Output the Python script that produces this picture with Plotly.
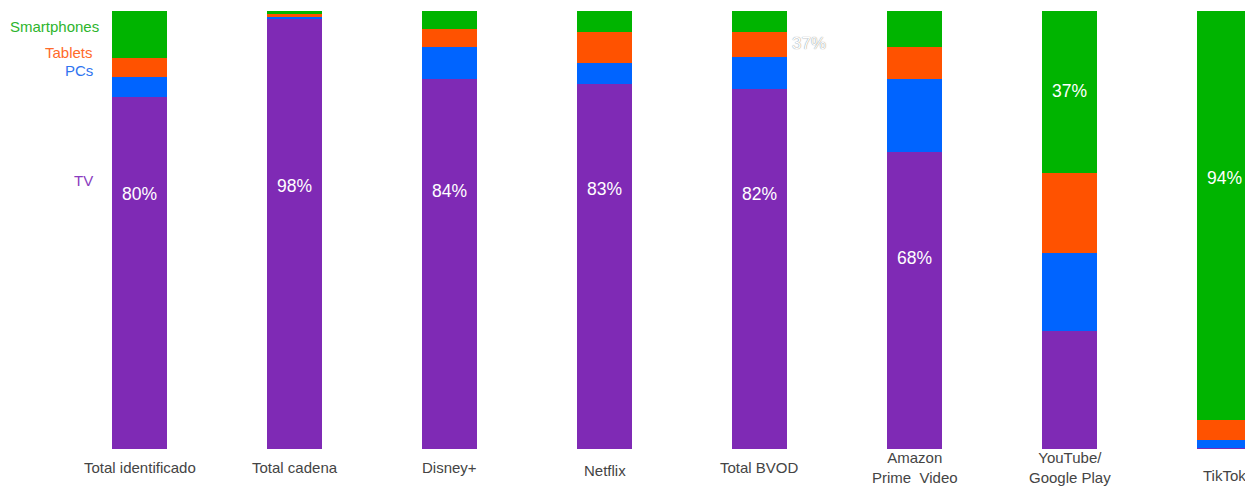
import plotly.graph_objects as go

categories = ["Total identificado", "Total cadena", "Disney+", "Netflix", "Total BVOD",
              "Amazon<br>Prime  Video", "YouTube/<br>Google Play", "TikTok"]
tv = [80.4, 98.1, 84.5, 83.3, 82.2, 67.8, 26.9, 0.3]
pcs = [4.6, 0.6, 7.3, 4.8, 7.3, 16.7, 17.8, 1.8]
tablets = [4.3, 0.7, 4.1, 7.1, 5.7, 7.3, 18.3, 4.6]
smartphones = [10.7, 0.6, 4.1, 4.8, 4.8, 8.2, 37.0, 93.3]
labels = ["80%", "98%", "84%", "83%", "82%", "68%", "37%", "94%"]
label_y = [58.2, 60.0, 58.9, 59.4, 58.2, 43.6, 81.7, 61.9]
cat_label_shift = [0, 0, 0, -3, 0, 0, 0, -8]

C_TV = "#7F2AB5"
C_PC = "#0064FF"
C_TAB = "#FF5200"
C_SM = "#00B400"
FONT = "Liberation Sans"

W, H = 1245, 486
TOP, BOT = 11, 37
PX_PER_CAT = 155.0
X0 = 139.5
xmin = -X0 / PX_PER_CAT
xmax = xmin + W / PX_PER_CAT

def px2x(px):
    return xmin + px / PX_PER_CAT

def py2y(py):
    return (H - BOT - py) / (H - BOT - TOP) * 100

xs = list(range(len(categories)))
bw = 55 / PX_PER_CAT

fig = go.Figure()
for name, vals, col in [("TV", tv, C_TV), ("PCs", pcs, C_PC),
                        ("Tablets", tablets, C_TAB), ("Smartphones", smartphones, C_SM)]:
    fig.add_trace(go.Bar(x=xs, y=vals, name=name, marker_color=col, width=bw,
                         marker_line_width=0, showlegend=False, hoverinfo="skip"))

ann = []
for i, (t, yy) in enumerate(zip(labels, label_y)):
    ann.append(dict(x=i, y=yy, xref="x", yref="y", text=t, showarrow=False,
                    font=dict(color="white", size=17.5, family=FONT)))
for i, c in enumerate(categories):
    ann.append(dict(x=i, y=0, xref="x", yref="paper", yanchor="middle",
                    yshift=-18 + cat_label_shift[i],
                    text=c, showarrow=False,
                    font=dict(color="#444444", size=15, family=FONT)))
legend_items = [("Smartphones", "#2DB52D", 101, 26), ("Tablets", "#FF6A2A", 95, 52),
                ("PCs", "#2F74F0", 95, 70), ("TV", "#8A3CC0", 95, 180)]
for t, col, pxr, pyc in legend_items:
    ann.append(dict(x=px2x(pxr), y=py2y(pyc), xref="x", yref="y", xanchor="right",
                    yanchor="middle", text=t, showarrow=False,
                    font=dict(color=col, size=15, family=FONT)))
# ghost label
ann.append(dict(x=px2x(809), y=py2y(43), xref="x", yref="y", text="37%", showarrow=False,
                font=dict(color="white", size=17, family=FONT,
                          shadow="0px 0px 1px #666")))

fig.update_layout(
    barmode="stack",
    width=W, height=H, autosize=False,
    margin=dict(l=0, r=0, t=TOP, b=BOT, pad=0),
    plot_bgcolor="white", paper_bgcolor="white",
    xaxis=dict(range=[xmin, xmax], showticklabels=False, showgrid=False, zeroline=False,
               showline=False, ticks=""),
    yaxis=dict(range=[0, 100], showticklabels=False, showgrid=False, zeroline=False,
               showline=False, ticks=""),
    annotations=ann,
)
fig.write_html("out.html")
